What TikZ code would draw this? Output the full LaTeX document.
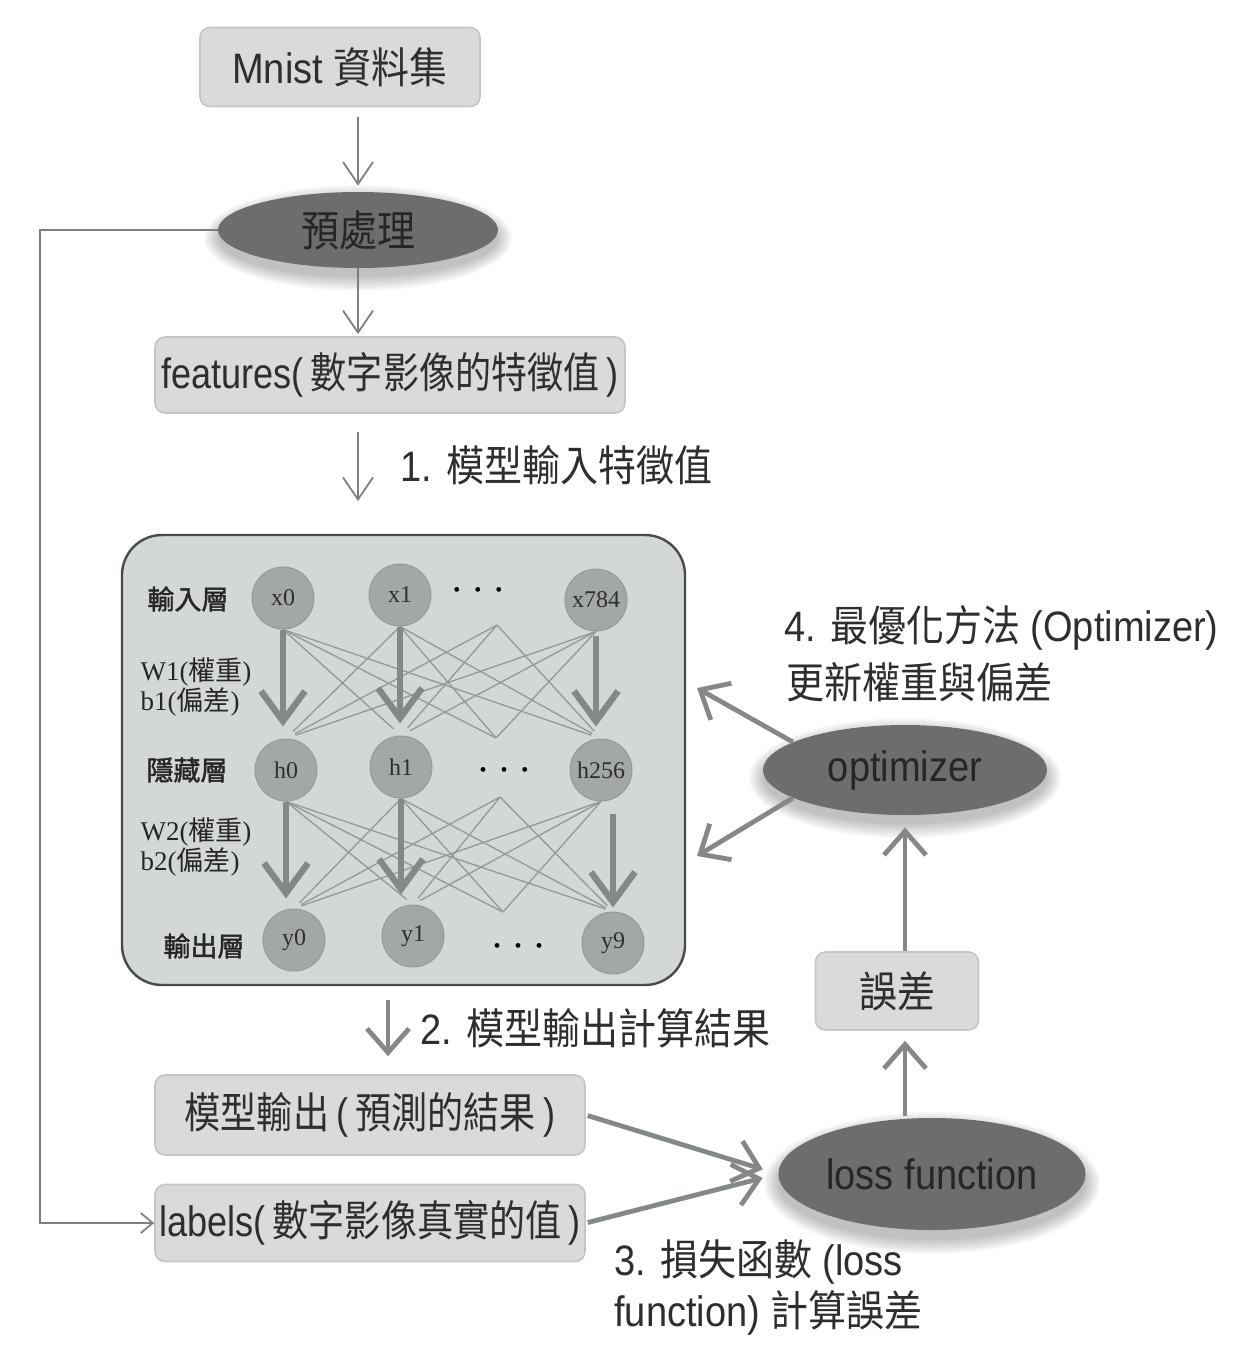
\documentclass[tikz,border=0pt]{standalone}
\usepackage{fontspec}
\usepackage{graphicx}
\setmainfont{Liberation Sans}
\newfontfamily\cjk{Noto Sans CJK TC}
\newfontfamily\cjkbold{Noto Sans CJK TC}[FakeBold=1.6]
\newfontfamily\serif{Liberation Serif}
\usetikzlibrary{arrows.meta,shapes.geometric,calc}

\newcommand\tallt[1]{\scalebox{1}[1.12]{#1}}
\newcommand\boxt[1]{\scalebox{0.95}[1.12]{#1}}
\newcommand\zh[1]{{\cjk #1}}
\newcommand\sr[1]{{\serif #1}}
\newcommand\gap{\hspace{0.2em}}

\definecolor{boxfill}{HTML}{D9DBD9}
\definecolor{boxline}{HTML}{C3C6C3}
\definecolor{ink}{HTML}{2E2E2E}
\definecolor{ovalfill}{HTML}{6C6E6C}
\definecolor{nnfill}{HTML}{D4D8D4}
\definecolor{nnline}{HTML}{4A4A4A}
\definecolor{neuron}{HTML}{A4A8A4}
\definecolor{wirec}{HTML}{959995}
\definecolor{flow}{HTML}{7E807E}
\definecolor{heavy}{HTML}{858985}

\tikzset{
  box/.style={draw=boxline, line width=0.8pt, fill=boxfill, rounded corners=5pt,
    inner sep=0pt, text=ink, font=\fontsize{19}{22}\selectfont},
  oval/.style={ellipse, fill=ovalfill, inner sep=0pt, text=black!85,
    font=\fontsize{19}{22}\selectfont},
  lbl/.style={inner sep=0pt, text=ink, font=\fontsize{19}{22}\selectfont},
  layer/.style={inner sep=0pt, text=black!85, font=\fontsize{13.5}{15}\selectfont},
  neuronc/.style={circle, fill=neuron, draw=neuron!92!black, line width=0.5pt,
    minimum size=31pt, inner sep=0pt, text=ink, font=\serif\fontsize{12}{14}\selectfont},
  dotrow/.style={inner sep=0pt, font=\serif\fontsize{10}{10}\selectfont},
  wire/.style={draw=wirec, line width=0.65pt},
  wide/.style={draw=heavy, line width=3.2pt, -{Straight Barb[length=15pt,width=22pt]}},
  mid/.style={draw=heavy, line width=2.4pt, -{Straight Barb[length=12pt,width=21pt]}},
  thinarrow/.style={draw=flow, line width=0.9pt, -{Straight Barb[length=11pt,width=15pt]}},
  feedback/.style={draw=flow, line width=0.9pt, -{Straight Barb[length=6pt,width=10pt]}},
}

\begin{document}
\begin{tikzpicture}[x=0.5pt, y=-0.5pt]
\useasboundingbox (0,0) rectangle (1252,1346);

% soft shadows under the three dark ovals
\foreach \i in {1,...,10} {
  \fill[black, opacity=0.028] (358,238) ellipse [x radius={69pt+\i*0.8pt}, y radius={18.5pt+\i*0.8pt}];
  \fill[black, opacity=0.028] (905,778) ellipse [x radius={70pt+\i*0.8pt}, y radius={22pt+\i*0.8pt}];
  \fill[black, opacity=0.028] (932,1183) ellipse [x radius={76pt+\i*0.8pt}, y radius={27.5pt+\i*0.8pt}];
}

% data preparation
\node[box, minimum width=140pt, minimum height=39.5pt] (mnist) at (340,67) {\tallt{Mnist \zh{資料集}}};
\node[oval, minimum width=140pt, minimum height=38pt] (prep) at (358,230) {\tallt{\zh{預處理}}};
\node[box, minimum width=235pt, minimum height=38pt] (feat) at (390,375) {\boxt{features(\gap\zh{數字影像的特徵值}\gap)}};
\node[lbl, anchor=west] (t1) at (400,465) {\tallt{1. \zh{模型輸入特徵值}}};

\draw[thinarrow, shorten <=5pt, shorten >=3pt] (mnist.south -| prep) -- (prep.north);
\draw[thinarrow, shorten >=1pt] (prep.south) -- (prep.south |- feat.north);
\draw[thinarrow, shorten <=9pt, shorten >=17pt] (feat.south -| prep) -- (prep |- 0,535);

% network block
\node[draw=nnline, line width=1.2pt, fill=nnfill, rounded corners=20pt,
  minimum width=281.5pt, minimum height=225pt, inner sep=0pt] (nn) at (403.5,760) {};

\node[layer] (lin) at (188,599) {\cjkbold 輸入層};
\node[layer] (w1) at (196,672) {\sr{W1(}\zh{權重}\sr{)}};
\node[layer] (b1) at (190,702) {\sr{b1(}\zh{偏差}\sr{)}};
\node[layer] (lhid) at (187,770) {\cjkbold 隱藏層};
\node[layer] (w2) at (196,832) {\sr{W2(}\zh{權重}\sr{)}};
\node[layer] (b2) at (190,862) {\sr{b2(}\zh{偏差}\sr{)}};
\node[layer] (lout) at (204,946) {\cjkbold 輸出層};

\coordinate (d1b) at (497,625);
\coordinate (d2t) at (496,738);
\coordinate (d2b) at (500,797);
\coordinate (d3t) at (503,912);

\node[neuronc] (x0) at (283,598) {x0};
\node[neuronc] (x1) at (400,595) {x1};
\node[neuronc] (x784) at (596,600) {x784};
\node[neuronc] (h0) at (286,770) {h0};
\node[neuronc] (h1) at (401,767) {h1};
\node[neuronc] (h256) at (601,770) {h256};
\node[neuronc] (y0) at (294,940) {y0};
\node[neuronc] (y1) at (413,936) {y1};
\node[neuronc] (y9) at (613,943) {y9};
\node[dotrow] (dx) at (478,592) {•\hspace{7pt}•\hspace{7pt}•};
\node[dotrow] (dh) at (504,772) {•\hspace{7pt}•\hspace{7pt}•};
\node[dotrow] (dy) at (518,948) {•\hspace{7pt}•\hspace{7pt}•};

% weights, input -> hidden
\foreach \s/\t in {x0/h1, x0/h256, x1/h0, x1/h256, x784/h0, x784/h1}
  \draw[wire, shorten >=5pt] (\s.south) -- (\t.north);
\foreach \s in {x0, x1, x784} \draw[wire] (\s.south) -- (d2t);
\foreach \t in {h0, h1, h256} \draw[wire, shorten >=5pt] (d1b) -- (\t.north);
% weights, hidden -> output
\foreach \s/\t in {h0/y1, h0/y9, h1/y0, h1/y9, h256/y0, h256/y1}
  \draw[wire, shorten >=4pt] (\s.south) -- (\t.north);
\foreach \s in {h0, h1, h256} \draw[wire] (\s.south) -- (d3t);
\foreach \t in {y0, y1, y9} \draw[wire, shorten >=4pt] (d2b) -- (\t.north);

\draw[wide, shorten >=6pt] (x0.south) -- (x0.south |- h0.north);
\draw[wide, shorten >=6pt] (x1.south) -- (x1.south |- h1.north);
\draw[wide, shorten <=2pt, shorten >=6pt] (x784.south) -- (x784.south |- h256.north);
\draw[wide, shorten >=5pt] (h0.south) -- (h0.south |- y0.north);
\draw[wide, shorten >=5pt] (h1.south) -- (h1.south |- y1.north);
\draw[wide, shorten <=6pt, shorten >=2pt] (y9.north |- h256.south) -- (y9.north);

% output and loss
\coordinate (a2) at (388,1000);
\node[lbl, anchor=west] (t2) at (420,1028) {\tallt{2. \zh{模型輸出計算結果}}};
\node[box, minimum width=215pt, minimum height=40pt] (out) at (370,1115) {\boxt{\zh{模型輸出}\gap(\gap\zh{預測的結果}\gap)}};
\node[box, minimum width=215pt, minimum height=38.5pt] (lab) at (370,1223) {\boxt{labels(\gap\zh{數字影像真實的值}\gap)}};
\draw[mid, shorten >=9pt] (a2) -- (a2 |- out.north);

\node[oval, minimum width=153.5pt, minimum height=56pt] (loss) at (932,1174) {\tallt{loss function}};
\draw[mid, shorten <=1pt, shorten >=8pt] (out.east) -- (loss.west);
\draw[mid, shorten <=1pt, shorten >=8pt] (lab.east) -- (loss.west);
\node[lbl, anchor=west] (t3a) at (614,1262) {\tallt{3. \zh{損失函數} (loss}};
\node[lbl, anchor=west] (t3b) at (614,1313) {\tallt{function) \zh{計算誤差}}};

% error and optimizer
\node[oval, minimum width=142pt, minimum height=45pt] (opt) at (905,770) {\tallt{optimizer}};
\node[box, minimum width=81.5pt, minimum height=39pt] (err) at (897,991) {\tallt{\zh{誤差}}};
\draw[mid, shorten <=1pt, shorten >=5pt] (loss.north -| opt) -- (err.south -| opt);
\draw[mid, shorten >=6pt] (err.north -| opt) -- (opt.south);

\coordinate (up) at (697,688);
\coordinate (dn) at (697,856);
\draw[mid] (opt.166) -- (up);
\draw[mid] (opt.194) -- (dn);
\node[lbl, anchor=west] (t4a) at (784,628) {\tallt{4. \zh{最優化方法} (Optimizer)}};
\node[lbl, anchor=west] (t4b) at (786,682) {\tallt{\zh{更新權重與偏差}}};

% labels are taken straight from the preprocessing step
\coordinate (fbx) at (40,0);
\draw[feedback] (prep.west) -| (fbx |- lab.west) -- (lab.west);
\end{tikzpicture}
\end{document}
